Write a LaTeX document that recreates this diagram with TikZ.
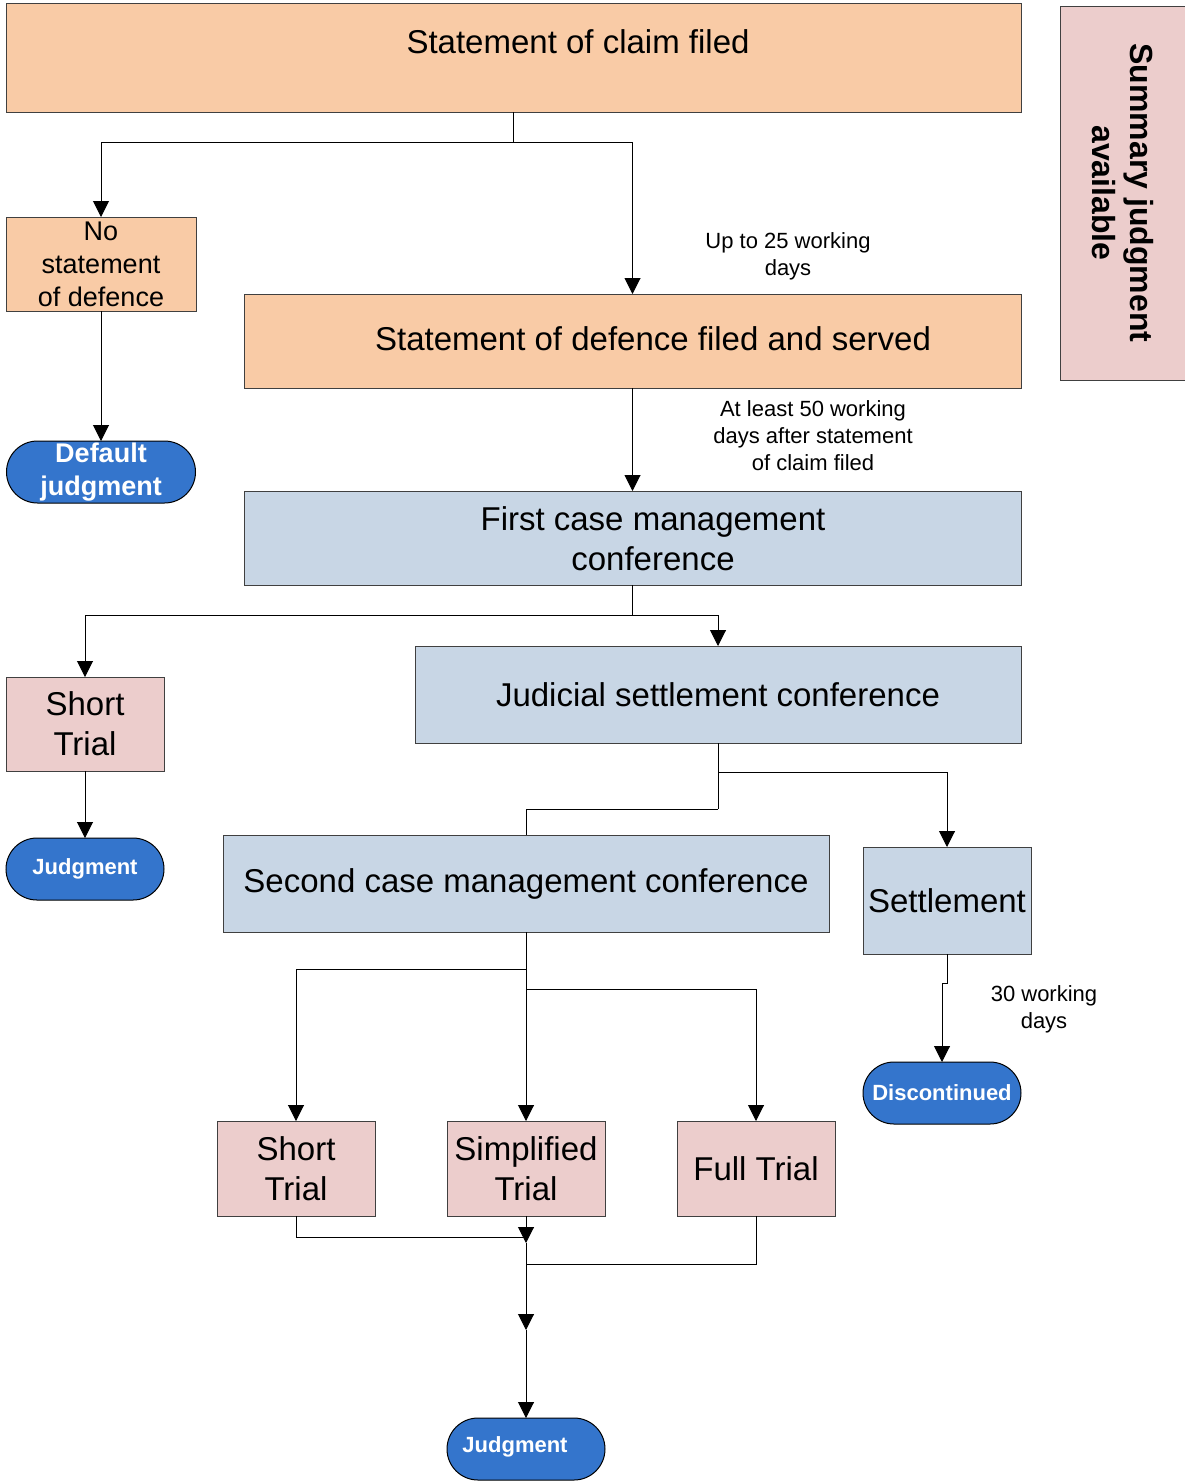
\documentclass[tikz,border=0pt]{standalone}
\usepackage{fontspec}
\setmainfont{Liberation Sans}
\usetikzlibrary{arrows.meta}
\definecolor{peach}{RGB}{249,203,166}
\definecolor{steel}{RGB}{200,214,229}
\definecolor{rose}{RGB}{236,205,204}
\definecolor{endblue}{RGB}{52,117,204}
\definecolor{edge}{RGB}{64,64,64}

\begin{document}
\begin{tikzpicture}[x=1pt,y=-1pt,
    box/.style={draw=edge, line width=1pt, inner sep=0pt, outer sep=0pt, align=center,
      font=\fontsize{33}{40}\selectfont},
    stage/.style={box, fill=peach},
    meet/.style={box, fill=steel},
    trial/.style={box, fill=rose, minimum width=158, minimum height=95},
    ending/.style={draw=black, line width=1pt, fill=endblue, rounded corners=31pt, inner sep=0pt,
      outer sep=0pt, minimum width=158, minimum height=62, text=white, align=center,
      font=\bfseries\fontsize{22}{27}\selectfont},
    bigtext/.style={align=center, font=\fontsize{33}{40}\selectfont},
    note/.style={align=center, font=\fontsize{22}{27}\selectfont},
    conn/.style={line width=1pt, -{Triangle[width=16pt,length=16pt]}},
    plain/.style={line width=1pt}]
    \useasboundingbox (0,0) rectangle (1185,1481);

    % Filing stages
    \node[stage, minimum width=1015, minimum height=109] (claim) at (513.5,57.5) {};
    \node[bigtext] (claimtxt) at (578,42) {Statement of claim filed};
    \node[stage, minimum width=190, minimum height=94, font=\fontsize{27}{33}\selectfont] (nodef) at (101,264) {No\\statement\\of defence};
    \node[ending, minimum width=189, font=\bfseries\fontsize{27}{33}\selectfont] (default) at (101,472) {Default\\judgment};
    \node[stage, minimum width=777, minimum height=94] (defence) at (632.5,341) {};
    \node[bigtext] (defencetxt) at (653,339) {Statement of defence filed and served};
    \node[box, fill=rose, minimum width=374, minimum height=125, rotate=-90,
      font=\bfseries\fontsize{32}{38}\selectfont] (summary) at (1122.5,193) {Summary judgment\\available};

    % Conferences
    \node[meet, minimum width=777, minimum height=94] (cmc1) at (632.5,538) {};
    \node[bigtext] (cmc1txt) at (653,539) {First case management\\conference};
    \node[trial, minimum height=94] (short1) at (85,724) {Short\\Trial};
    \node[ending] (judge1) at (85,869) {Judgment};
    \node[meet, minimum width=606, minimum height=97] (jsc) at (718,694.5) {Judicial settlement conference};
    \node[meet, minimum width=606, minimum height=97] (cmc2) at (526,883.5) {Second case management conference};
    \node[meet, minimum width=168, minimum height=107] (settle) at (947,900.5) {Settlement};
    \node[ending] (discont) at (942,1093) {Discontinued};

    % Trials
    \node[trial] (short2) at (296,1168.5) {Short\\Trial};
    \node[trial] (simp) at (526,1168.5) {Simplified\\Trial};
    \node[trial] (full) at (756,1168.5) {Full Trial};
    \node[ending] (judge2) at (526,1449) {};
    \node[text=white, font=\bfseries\fontsize{22}{27}\selectfont] (judge2txt) at (515,1447) {Judgment};

    % Time notes
    \node[note] (lab1) at (788,256.5) {Up to 25 working\\days};
    \node[note] (lab2) at (813,435.5) {At least 50 working\\days after statement\\of claim filed};
    \node[note] (lab3) at (1044,1009.5) {30 working\\days};

    % Connectors
    \coordinate (j1) at (513.5,142);
    \draw[plain] (claim.south) -- (j1);
    \draw[conn] (j1) -| (nodef.north);
    \draw[conn] (j1) -| (defence.north);
    \draw[conn] (nodef.south) -- (default.north);
    \draw[conn] (defence.south) -- (cmc1.north);

    \coordinate (j2) at (632.5,615);
    \draw[plain] (cmc1.south) -- (j2);
    \draw[conn] (j2) -| (short1.north);
    \draw[conn] (j2) -| (jsc.north);
    \draw[conn] (short1.south) -- (judge1.north);

    \coordinate (j3) at (718,772);
    \coordinate (j4) at (718,809);
    \draw[plain] (jsc.south) -- (j4);
    \draw[conn] (j3) -| (settle.north);
    \draw[plain] (j4) -| (cmc2.north);

    \coordinate (j5) at (947,983);
    \coordinate (j6) at (942,983);
    \draw[conn] (settle.south) -- (j5) -- (j6) -- (discont.north);

    \coordinate (j7) at (526,969);
    \coordinate (j8) at (526,989);
    \draw[conn] (cmc2.south) -- (simp.north);
    \draw[conn] (j7) -| (short2.north);
    \draw[conn] (j8) -| (full.north);

    \coordinate (m1) at (526,1243);
    \coordinate (m2) at (526,1264);
    \coordinate (m3) at (526,1330);
    \draw[plain] (short2.south) |- (526,1237);
    \draw[conn] (simp.south) -- (m1);
    \draw[plain] (full.south) |- (m2);
    \draw[conn] (m1) -- (m3);
    \draw[conn] (m3) -- (judge2.north);
\end{tikzpicture}
\end{document}
